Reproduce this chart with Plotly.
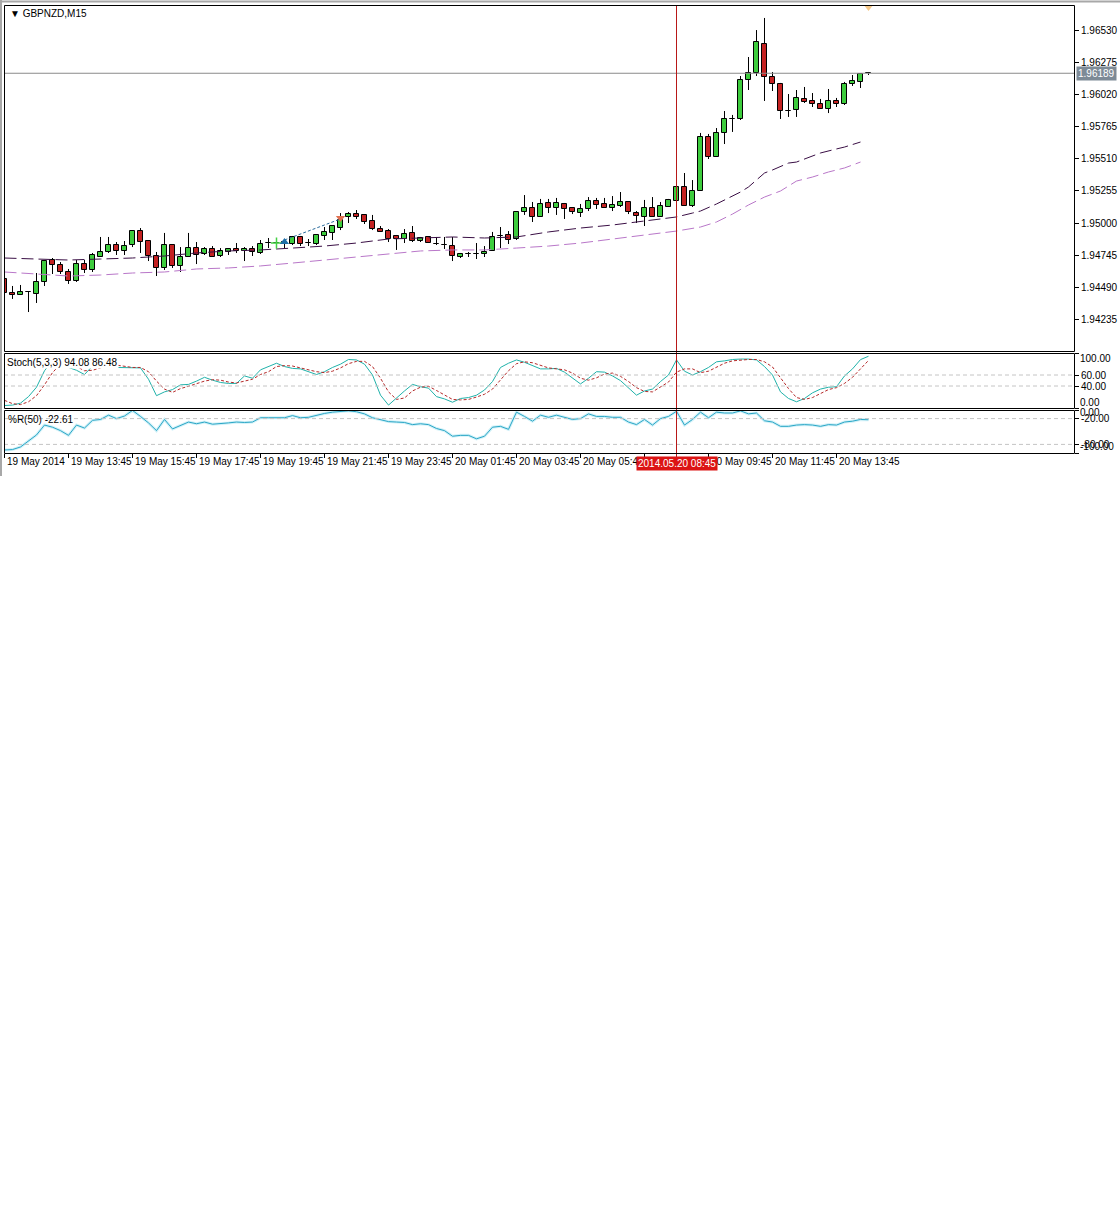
import plotly.graph_objects as go

# ---------------- data (GBPNZD, M15, 19 May 2014 11:45 -> 20 May 2014 14:45) ----------------
bars = list(range(109))

opens = [
    1.94555, 1.94444, 1.94428, 1.94452, 1.94436, 1.94532, 1.94706, 1.94667, 1.94611, 1.94540,
    1.94674, 1.94627, 1.94730, 1.94770, 1.94825, 1.94778, 1.94825, 1.94936, 1.94857, 1.94738,
    1.94643, 1.94825, 1.94659, 1.94730, 1.94801, 1.94754, 1.94794, 1.94738, 1.94770, 1.94794,
    1.94778, 1.94794, 1.94762, 1.94841, 1.94841, 1.94849, 1.94833, 1.94889, 1.94841, 1.94833,
    1.94897, 1.94921, 1.94960, 1.95048, 1.95071, 1.95064, 1.95016, 1.94952, 1.94936, 1.94897,
    1.94873, 1.94921, 1.94857, 1.94889, 1.94833, 1.94825, 1.94817, 1.94730, 1.94754, 1.94754,
    1.94754, 1.94778, 1.94897, 1.94905, 1.94873, 1.95087, 1.95119, 1.95048, 1.95159, 1.95119,
    1.95151, 1.95119, 1.95079, 1.95111, 1.95175, 1.95151, 1.95119, 1.95135, 1.95167, 1.95079,
    1.95048, 1.95119, 1.95048, 1.95127, 1.95175, 1.95286, 1.95135, 1.95254, 1.95683, 1.95524,
    1.95715, 1.95826, 1.95826, 1.96135, 1.96191, 1.96421, 1.96159, 1.96104, 1.95889, 1.95897,
    1.95985, 1.95969, 1.95945, 1.95905, 1.95969, 1.95945, 1.96104, 1.96120, 1.96189]

highs = [
    1.94571, 1.94500, 1.94508, 1.94460, 1.94603, 1.94706, 1.94722, 1.94690, 1.94635, 1.94706,
    1.94706, 1.94762, 1.94889, 1.94889, 1.94849, 1.94857, 1.94936, 1.94960, 1.94865, 1.94770,
    1.94921, 1.94825, 1.94809, 1.94921, 1.94849, 1.94809, 1.94817, 1.94801, 1.94801, 1.94841,
    1.94809, 1.94817, 1.94865, 1.94881, 1.94873, 1.94857, 1.94897, 1.94897, 1.94873, 1.94905,
    1.94968, 1.94984, 1.95079, 1.95087, 1.95103, 1.95071, 1.95064, 1.94976, 1.94952, 1.94905,
    1.94952, 1.94976, 1.94889, 1.94889, 1.94889, 1.94889, 1.94889, 1.94762, 1.94770, 1.94841,
    1.94817, 1.94929, 1.94968, 1.94936, 1.95087, 1.95222, 1.95167, 1.95191, 1.95191, 1.95199,
    1.95159, 1.95119, 1.95151, 1.95206, 1.95199, 1.95199, 1.95214, 1.95246, 1.95167, 1.95095,
    1.95183, 1.95206, 1.95167, 1.95191, 1.95286, 1.95397, 1.95341, 1.95715, 1.95707, 1.95754,
    1.95889, 1.95858, 1.96167, 1.96318, 1.96532, 1.96628, 1.96199, 1.96112, 1.96024, 1.96056,
    1.96080, 1.96032, 1.95985, 1.96064, 1.95993, 1.96120, 1.96175, 1.96191, 1.96199]

lows = [
    1.94428, 1.94397, 1.94428, 1.94293, 1.94365, 1.94500, 1.94595, 1.94595, 1.94516, 1.94532,
    1.94603, 1.94611, 1.94730, 1.94762, 1.94746, 1.94746, 1.94809, 1.94762, 1.94698, 1.94579,
    1.94627, 1.94643, 1.94611, 1.94730, 1.94674, 1.94746, 1.94730, 1.94730, 1.94746, 1.94762,
    1.94698, 1.94738, 1.94754, 1.94801, 1.94809, 1.94801, 1.94825, 1.94817, 1.94817, 1.94825,
    1.94865, 1.94865, 1.94944, 1.95000, 1.95032, 1.94992, 1.94944, 1.94929, 1.94849, 1.94786,
    1.94841, 1.94849, 1.94849, 1.94841, 1.94825, 1.94794, 1.94698, 1.94722, 1.94730, 1.94714,
    1.94730, 1.94778, 1.94801, 1.94833, 1.94865, 1.95064, 1.95008, 1.95048, 1.95079, 1.95064,
    1.95032, 1.95071, 1.95048, 1.95095, 1.95111, 1.95119, 1.95095, 1.95127, 1.95071, 1.95000,
    1.94976, 1.95048, 1.95048, 1.95127, 1.95175, 1.95135, 1.95127, 1.95254, 1.95508, 1.95524,
    1.95627, 1.95723, 1.95818, 1.96056, 1.96167, 1.95969, 1.96048, 1.95826, 1.95842, 1.95842,
    1.95953, 1.95921, 1.95905, 1.95873, 1.95921, 1.95937, 1.96088, 1.96072, 1.96175]

closes = [
    1.94444, 1.94428, 1.94452, 1.94455, 1.94532, 1.94698, 1.94667, 1.94611, 1.94540, 1.94674,
    1.94627, 1.94746, 1.94770, 1.94825, 1.94778, 1.94817, 1.94936, 1.94849, 1.94738, 1.94643,
    1.94825, 1.94659, 1.94730, 1.94801, 1.94746, 1.94794, 1.94730, 1.94778, 1.94794, 1.94778,
    1.94794, 1.94770, 1.94833, 1.94841, 1.94845, 1.94845, 1.94889, 1.94833, 1.94841, 1.94905,
    1.94929, 1.94976, 1.95024, 1.95071, 1.95048, 1.95008, 1.94952, 1.94929, 1.94873, 1.94873,
    1.94913, 1.94857, 1.94881, 1.94841, 1.94833, 1.94825, 1.94738, 1.94754, 1.94754, 1.94754,
    1.94770, 1.94889, 1.94897, 1.94865, 1.95087, 1.95119, 1.95048, 1.95151, 1.95119, 1.95159,
    1.95111, 1.95087, 1.95111, 1.95175, 1.95143, 1.95119, 1.95143, 1.95167, 1.95087, 1.95056,
    1.95119, 1.95048, 1.95135, 1.95183, 1.95286, 1.95135, 1.95254, 1.95683, 1.95524, 1.95715,
    1.95826, 1.95826, 1.96135, 1.96191, 1.96437, 1.96159, 1.96104, 1.95889, 1.95889, 1.95993,
    1.95961, 1.95945, 1.95905, 1.95969, 1.95945, 1.96104, 1.96127, 1.96183, 1.96189]

# moving averages (read at sample bars)
ma_dark_bars = [0, 4, 8, 12, 16, 20, 24, 28, 32, 36, 40, 44, 48, 52, 56, 60, 64, 68, 72, 76,
                80, 84, 86, 87, 89, 90, 92, 93, 95, 96, 98, 99, 101, 102, 104, 105, 107]
ma_dark = [1.94722, 1.94714, 1.94706, 1.94714, 1.94722, 1.94738, 1.94762, 1.94778, 1.94786, 1.94801,
           1.94817, 1.94841, 1.94873, 1.94881, 1.94889, 1.94881, 1.94889, 1.94929, 1.94960, 1.94984,
           1.95016, 1.95048, 1.95079, 1.95095, 1.95151, 1.95183, 1.95246, 1.95286, 1.95397, 1.95421,
           1.95476, 1.95484, 1.95532, 1.95556, 1.95588, 1.95603, 1.95643]
ma_light_bars = [0, 4, 8, 12, 16, 20, 24, 28, 32, 36, 40, 44, 48, 52, 56, 60, 64, 68, 72, 76,
                 80, 84, 87, 89, 91, 93, 95, 97, 99, 101, 103, 105, 107]
ma_light = [1.94611, 1.94595, 1.94579, 1.94587, 1.94603, 1.94611, 1.94635, 1.94643, 1.94659, 1.94682,
            1.94706, 1.94730, 1.94754, 1.94778, 1.94786, 1.94786, 1.94801, 1.94817, 1.94841, 1.94873,
            1.94905, 1.94936, 1.94968, 1.95008, 1.95071, 1.95143, 1.95206, 1.95254, 1.95333, 1.95365,
            1.95405, 1.95437, 1.95484]

stoch_main = [4.5, 5.3, 8.8, 20.7, 37.8, 67.7, 86.5, 84.8, 73.7, 68.6,
              60.9, 76.3, 80.6, 78.8, 73.7, 73.7, 73.7, 72.9, 52.3, 22.4,
              29.3, 33.5, 42.1, 42.9, 48.9, 55.8, 50.6, 46.4, 44.7, 44.7,
              58.3, 54.1, 69.4, 75.4, 81.4, 75.4, 72.0, 71.1, 66.0, 60.9,
              66.0, 73.7, 79.7, 88.2, 87.4, 79.7, 60.0, 23.3, 5.3, 19.0,
              31.0, 42.9, 38.7, 36.1, 20.7, 16.5, 10.5, 17.3, 19.0, 23.3,
              32.7, 48.1, 73.7, 81.4, 87.4, 83.1, 77.1, 71.1, 71.1, 72.0,
              65.2, 54.1, 43.8, 54.1, 66.0, 65.2, 58.3, 49.8, 37.0, 23.3,
              31.0, 34.4, 48.1, 60.0, 87.4, 66.9, 60.0, 66.0, 73.7, 84.0,
              85.7, 88.2, 89.0, 89.0, 87.4, 75.4, 60.0, 29.3, 17.3, 11.3,
              17.3, 27.6, 34.4, 37.8, 38.7, 58.3, 71.1, 88.0, 94.08]
stoch_signal = [13.9, 7.9, 6.2, 11.3, 22.4, 42.1, 64.3, 79.7, 81.4, 75.4,
                67.7, 68.6, 72.9, 78.8, 78.0, 75.4, 73.7, 73.7, 66.0, 48.9,
                34.4, 28.4, 35.3, 39.5, 44.7, 48.9, 51.5, 50.6, 47.2, 45.5,
                48.9, 52.3, 60.9, 66.0, 75.4, 77.1, 76.3, 72.9, 69.4, 66.0,
                64.3, 66.9, 72.9, 80.6, 84.8, 84.8, 75.4, 54.1, 29.3, 15.6,
                18.2, 31.0, 37.8, 39.5, 31.8, 24.2, 15.6, 14.7, 15.6, 19.9,
                25.0, 34.4, 51.5, 67.7, 80.6, 84.0, 82.3, 77.1, 72.9, 71.1,
                69.4, 63.5, 54.1, 50.6, 54.9, 61.7, 63.5, 57.5, 48.1, 37.0,
                30.1, 29.3, 37.8, 47.2, 65.2, 71.1, 71.1, 64.3, 66.9, 74.6,
                81.4, 85.7, 87.4, 88.2, 88.2, 84.0, 74.6, 54.9, 35.3, 19.0,
                15.6, 19.0, 26.7, 33.5, 37.0, 44.7, 55.8, 70.3, 86.48]
wpr = [-93, -92, -86, -72, -58, -35, -40, -48, -59, -35, -42, -24, -22, -12, -20, -14, -1, -15, -30, -48,
       -22, -44, -36, -28, -32, -28, -33, -32, -30, -28, -29, -28, -18, -18, -18, -18, -13, -18, -17, -12,
       -8, -5, -3, -2, -4, -9, -18, -22, -27, -28, -29, -34, -32, -34, -43, -48, -61, -59, -59, -67,
       -61, -40, -38, -45, -5, -15, -26, -12, -17, -12, -17, -22, -20, -9, -15, -15, -17, -17, -28, -34,
       -22, -35, -20, -15, -3, -35, -22, -5, -18, -5, -7, -7, -2, -9, -7, -25, -28, -38, -38, -35,
       -34, -35, -38, -34, -35, -28, -26, -22, -22.61]

price_ticks = [1.96530, 1.96275, 1.96020, 1.95765, 1.95510, 1.95255, 1.95000, 1.94745, 1.94490, 1.94235]
price_tick_text = ["1.96530", "1.96275", "1.96020", "1.95765", "1.95510", "1.95255", "1.95000",
                   "1.94745", "1.94490", "1.94235"]
stoch_ticks = [100, 60, 40, 0]
stoch_tick_text = ["100.00", "60.00", "40.00", "0.00"]
stoch_levels = [60, 40]
wpr_ticks = [0, -20, -80, -100]
wpr_tick_text = ["0.00", "-20.00", "-80.00", "-100.00"]
wpr_levels = [-20, -80]

time_tick_bars = [0, 8, 16, 24, 32, 40, 48, 56, 64, 72, 80, 88, 96, 104]
time_tick_labels = ["19 May 2014", "19 May 13:45", "19 May 15:45", "19 May 17:45", "19 May 19:45",
                    "19 May 21:45", "19 May 23:45", "20 May 01:45", "20 May 03:45", "20 May 05:45",
                    "20 May 07:45", "20 May 09:45", "20 May 11:45", "20 May 13:45"]

bid_price = 1.96189
cursor_bar = 84
cursor_label = "2014.05.20 08:45"

trade_bars = [35, 42]
trade_prices = [1.94865, 1.95032]
buy_marker_bar, buy_marker_price = [35], [1.94849]
close_marker_bar, close_marker_price = [42], [1.95040]
check_marker_bar, check_marker_price = [34], [1.94841]
alert_marker_bar, alert_marker_price = [108], [1.96712]

# ---------------- layout helpers ----------------
W, H = 1120, 1228
def fx(p):
    return p / W
def fy(p):
    return 1 - p / H

FONT = "Liberation Sans, Arial, sans-serif"
X_RANGE = [-0.0625, 133.6875]      # half-pixel offset so 1px lines fall on whole pixels
UP, DOWN = "#3dcc3d", "#c42222"

fig = go.Figure()

# wicks (split so they don't cross the bodies)
wx, wy = [], []
for i, o, h, l, c in zip(bars, opens, highs, lows, closes):
    top, bot = max(o, c), min(o, c)
    if h > top:
        wx += [i, i, None]; wy += [h, top, None]
    if l < bot:
        wx += [i, i, None]; wy += [bot, l, None]
fig.add_trace(go.Scatter(x=wx, y=wy, mode="lines", line=dict(color="black", width=1),
                         xaxis="x", yaxis="y", hoverinfo="skip", showlegend=False))

body_base = [min(o, c) for o, c in zip(opens, closes)]
body_h = [max(abs(c - o), 0.00002) for o, c in zip(opens, closes)]
body_col = [UP if c > o else (DOWN if c < o else "black") for o, c in zip(opens, closes)]
fig.add_trace(go.Bar(x=bars, y=body_h, base=body_base, width=0.62,
                     marker=dict(color=body_col, line=dict(color="black", width=1)),
                     xaxis="x", yaxis="y", hoverinfo="skip", showlegend=False))

fig.add_trace(go.Scatter(x=ma_dark_bars, y=ma_dark, mode="lines",
                         line=dict(color="#3a0f45", width=1, dash="12px,5px"),
                         xaxis="x", yaxis="y", hoverinfo="skip", showlegend=False))
fig.add_trace(go.Scatter(x=ma_light_bars, y=ma_light, mode="lines",
                         line=dict(color="#b977c9", width=1, dash="12px,5px"),
                         xaxis="x", yaxis="y", hoverinfo="skip", showlegend=False))

# trade objects
fig.add_trace(go.Scatter(x=trade_bars, y=trade_prices, mode="lines",
                         line=dict(color="#2b6c9c", width=1, dash="3px,2px"),
                         xaxis="x", yaxis="y", hoverinfo="skip", showlegend=False))
fig.add_trace(go.Scatter(x=check_marker_bar, y=check_marker_price, mode="markers",
                         marker=dict(symbol="cross-thin", size=8, line=dict(color="#44d044", width=1.5)),
                         xaxis="x", yaxis="y", hoverinfo="skip", showlegend=False))
fig.add_trace(go.Scatter(x=buy_marker_bar, y=buy_marker_price, mode="markers",
                         marker=dict(symbol="triangle-up", size=8, color="#1f6fa8"),
                         xaxis="x", yaxis="y", hoverinfo="skip", showlegend=False))
fig.add_trace(go.Scatter(x=close_marker_bar, y=close_marker_price, mode="markers",
                         marker=dict(symbol="triangle-down", size=8, color="#e07050"),
                         xaxis="x", yaxis="y", hoverinfo="skip", showlegend=False))
fig.add_trace(go.Scatter(x=alert_marker_bar, y=alert_marker_price, mode="markers",
                         marker=dict(symbol="triangle-down", size=7, color="#f6c98a"),
                         xaxis="x", yaxis="y", hoverinfo="skip", showlegend=False))

# stochastic
fig.add_trace(go.Scatter(x=bars, y=stoch_main, mode="lines", line=dict(color="#20b2aa", width=1),
                         xaxis="x2", yaxis="y2", hoverinfo="skip", showlegend=False))
fig.add_trace(go.Scatter(x=bars, y=stoch_signal, mode="lines",
                         line=dict(color="#b52a2a", width=1, dash="3px,2px"),
                         xaxis="x2", yaxis="y2", hoverinfo="skip", showlegend=False))

# Williams %R
fig.add_trace(go.Scatter(x=bars, y=wpr, mode="lines", line=dict(color="rgba(140,220,238,0.4)", width=3),
                         xaxis="x3", yaxis="y3", hoverinfo="skip", showlegend=False))
fig.add_trace(go.Scatter(x=bars, y=wpr, mode="lines", line=dict(color="#2aa6c6", width=1),
                         xaxis="x3", yaxis="y3", hoverinfo="skip", showlegend=False))

tickfont = dict(family=FONT, size=10, color="black")
xcommon = dict(range=X_RANGE, domain=[fx(4), fx(1074)], showgrid=False, zeroline=False,
               showline=False, fixedrange=True, automargin=False)
ycommon = dict(side="right", showgrid=False, zeroline=False, showline=False, ticks="outside",
               ticklen=4, tickcolor="black", tickwidth=1, tickfont=tickfont, fixedrange=True,
               automargin=False)

shapes = []
# window borders
shapes.append(dict(type="line", xref="paper", yref="paper", x0=0, x1=1, y0=fy(1.5), y1=fy(1.5),
                   line=dict(color="#a8a8a8", width=2)))
shapes.append(dict(type="line", xref="paper", yref="paper", x0=fx(1), x1=fx(1), y0=fy(0), y1=fy(476),
                   line=dict(color="#a8a8a8", width=2)))
# level lines
for lv in stoch_levels:
    shapes.append(dict(type="line", xref="paper", yref="y2", x0=fx(4), x1=fx(1074), y0=lv, y1=lv,
                       line=dict(color="#c4c4c4", width=1, dash="4px,3px")))
for lv in wpr_levels:
    shapes.append(dict(type="line", xref="paper", yref="y3", x0=fx(4), x1=fx(1074), y0=lv, y1=lv,
                       line=dict(color="#c4c4c4", width=1, dash="4px,3px")))
# bid line
shapes.append(dict(type="line", xref="paper", yref="y", x0=fx(4), x1=fx(1074), y0=bid_price, y1=bid_price,
                   line=dict(color="#8a8a8a", width=1)))
# cursor line
shapes.append(dict(type="line", xref="x", yref="paper", x0=cursor_bar, x1=cursor_bar, y0=fy(458), y1=fy(5),
                   line=dict(color="#b81818", width=1)))
# panel frames (pixel-centred so they render as crisp double lines)
for top, bot in [(5.5, 351.5), (353.5, 408.5), (410.5, 453.5)]:
    shapes.append(dict(type="rect", xref="paper", yref="paper", x0=fx(4.5), x1=fx(1074.5),
                       y0=fy(bot), y1=fy(top),
                       line=dict(color="black", width=1), fillcolor="rgba(0,0,0,0)"))

annotations = []
annotations.append(dict(text="▼ GBPNZD,M15", x=fx(8), y=fy(13), xref="paper", yref="paper",
                        xanchor="left", yanchor="middle", showarrow=False,
                        font=dict(family=FONT, size=10, color="black")))
annotations.append(dict(text="Stoch(5,3,3) 94.08 86.48", x=fx(6), y=fy(362), xref="paper", yref="paper",
                        xanchor="left", yanchor="middle", showarrow=False, bgcolor="white", borderpad=0,
                        font=dict(family=FONT, size=10, color="black")))
annotations.append(dict(text="%R(50) -22.61", x=fx(6), y=fy(419), xref="paper", yref="paper",
                        xanchor="left", yanchor="middle", showarrow=False,
                        font=dict(family=FONT, size=10, color="black")))
for b, lab in zip(time_tick_bars, time_tick_labels):
    annotations.append(dict(text=lab, x=b, xref="x3", y=fy(462), yref="paper", xanchor="left",
                            yanchor="middle", xshift=0, showarrow=False,
                            font=dict(family=FONT, size=10, color="black")))
annotations.append(dict(text=cursor_label, x=cursor_bar, xref="x3", y=fy(463), yref="paper",
                        xanchor="center", yanchor="middle", showarrow=False, bgcolor="#dc1414",
                        borderpad=1, font=dict(family=FONT, size=10, color="white")))
annotations.append(dict(text="%.5f" % bid_price, x=fx(1076), xref="paper", y=bid_price, yref="y",
                        xanchor="left", yanchor="middle", showarrow=False, bgcolor="#7d8a96",
                        borderpad=1, font=dict(family=FONT, size=10, color="white")))
# end labels of the indicator scales are kept inside their panels (as the terminal does)
annotations.append(dict(text=stoch_tick_text[0], x=fx(1078), xref="paper", y=stoch_ticks[0], yref="y2",
                        xanchor="left", yanchor="middle", yshift=-5, showarrow=False, font=tickfont))
annotations.append(dict(text=stoch_tick_text[-1], x=fx(1078), xref="paper", y=stoch_ticks[-1], yref="y2",
                        xanchor="left", yanchor="middle", yshift=6, showarrow=False, font=tickfont))
annotations.append(dict(text=wpr_tick_text[0], x=fx(1078), xref="paper", y=wpr_ticks[0], yref="y3",
                        xanchor="left", yanchor="middle", yshift=-3, showarrow=False, font=tickfont))
annotations.append(dict(text=wpr_tick_text[-1], x=fx(1078), xref="paper", y=wpr_ticks[-1], yref="y3",
                        xanchor="left", yanchor="middle", yshift=6, showarrow=False, font=tickfont))

fig.update_layout(
    width=W, height=H, autosize=False,
    margin=dict(l=0, r=0, t=0, b=0, pad=0, autoexpand=False),
    paper_bgcolor="white", plot_bgcolor="white",
    showlegend=False, bargap=0,
    xaxis=dict(**xcommon, anchor="y", showticklabels=False, ticks=""),
    xaxis2=dict(**xcommon, anchor="y2", matches="x", showticklabels=False, ticks=""),
    xaxis3=dict(**xcommon, anchor="y3", matches="x", showticklabels=False, ticks="outside",
                ticklen=4, tickcolor="black", tickvals=time_tick_bars),
    yaxis=dict(**ycommon, anchor="x", domain=[fy(351), fy(5)], range=[1.939837, 1.967309],
               tickvals=price_ticks, ticktext=price_tick_text),
    yaxis2=dict(**ycommon, anchor="x2", domain=[fy(408), fy(353)], range=[0, 100],
                tickvals=stoch_ticks, ticktext=[""] + stoch_tick_text[1:-1] + [""]),
    yaxis3=dict(**ycommon, anchor="x3", domain=[fy(453), fy(410)], range=[-100, 0],
                tickvals=wpr_ticks, ticktext=[""] + wpr_tick_text[1:-1] + [""]),
    shapes=shapes, annotations=annotations,
)

page_css = ("var s=document.createElement('style');"
            "s.textContent='html,body{margin:0;padding:0;overflow:hidden;}"
            ".plotly-graph-div{margin:0!important;}';"
            "document.head.appendChild(s);")
fig.write_html("out.html", post_script=page_css, config={"displayModeBar": False})
